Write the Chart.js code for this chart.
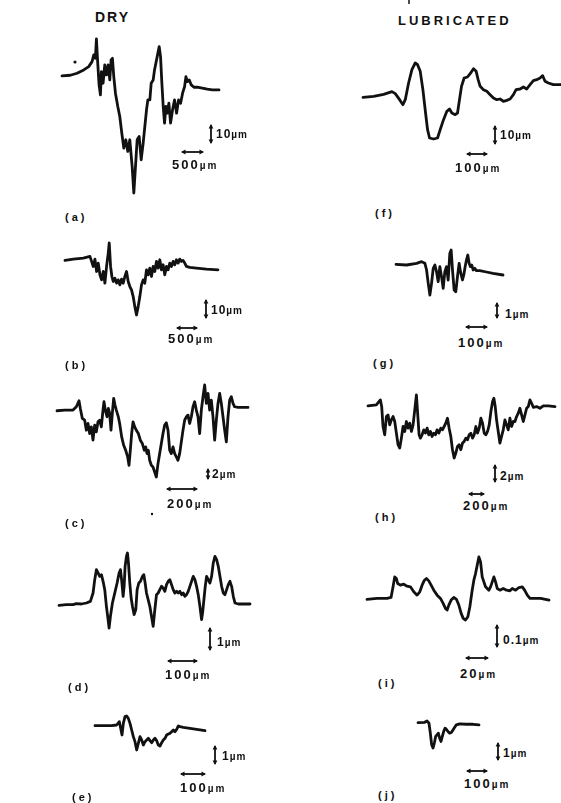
<!DOCTYPE html>
<html>
<head>
<meta charset="utf-8">
<script src="https://cdn.jsdelivr.net/npm/chart.js@4.4.0/dist/chart.umd.min.js"></script>
<style>
  html, body { margin: 0; padding: 0; background: #fff; }
  #sheet { position: relative; width: 561px; height: 803px; overflow: hidden;
    font-family: "Liberation Sans", Arial, sans-serif; font-weight: bold; color: #111; }
  #sheet canvas { position: absolute; }
  #marks { position: absolute; left: 0; top: 0; }
  .lbl { position: absolute; white-space: nowrap; line-height: 1; transform: translateY(-50%); }
  .head { font-size: 14px; letter-spacing: 2px; }
  .head.wide { font-size: 13px; letter-spacing: 3px; }
  .tag { font-size: 11px; letter-spacing: 3px; }
  .scale { font-size: 12px; letter-spacing: 1px; }
  .scale.wide { font-size: 13px; letter-spacing: 2px; }
  .scale span { font-size: 10px; }
</style>
</head>
<body>
<div id="sheet"><svg id="marks" width="561" height="803"></svg></div>
<script>
// Surface profiles across the wear tracks, [position, height] in trace units
// (3 units per screen px, height measured up from the trace's left baseline)
const traceA = [[0,0],[25,2],[45,8],[65,18],[80,28],[90,43],[95,63],[100,53],[103,111],[107,38],[111,-27],[115,-57],[118,13],[123,-22],[128,33],[133,3],[138,33],[143,-12],[147,48],[151,53],[155,-2],[160,-52],[167,-92],[173,-122],[179,-172],[185,-217],[191,-192],[197,-227],[203,-192],[210,-272],[215,-352],[220,-272],[225,-192],[231,-182],[237,-252],[243,-202],[248,-152],[253,-102],[257,-72],[263,-72],[267,-22],[273,-12],[277,18],[281,38],[285,58],[291,88],[295,58],[299,-22],[303,-92],[307,-142],[311,-92],[315,-112],[320,-82],[325,-142],[331,-102],[337,-72],[343,-112],[349,-72],[355,-82],[361,-52],[367,-32],[371,-2],[375,-17],[381,-12],[387,-27],[395,-34],[405,-34],[420,-37],[435,-40],[450,-42],[470,-42]];
const traceB = [[0,0],[25,4],[55,7],[75,12],[80,-3],[85,-18],[90,4],[95,-33],[100,-8],[105,-43],[110,-58],[115,-33],[120,-68],[125,-18],[130,22],[133,52],[137,-18],[141,-48],[145,-63],[150,-53],[155,-68],[160,-58],[165,-73],[170,-56],[175,-68],[180,-48],[185,-33],[190,-63],[195,-78],[200,-88],[205,-108],[210,-138],[215,-163],[220,-138],[225,-108],[230,-73],[235,-58],[240,-68],[245,-28],[250,-43],[255,-23],[260,-48],[265,-18],[270,-33],[275,-3],[280,-23],[285,2],[290,-28],[295,-13],[300,-43],[305,-18],[310,-28],[315,-8],[320,-18],[325,-3],[330,-13],[335,2],[340,-8],[345,4],[350,-3],[355,0],[360,-8],[365,-18],[375,-21],[395,-23],[425,-26],[460,-28]];
const traceC = [[0,0],[23,2],[48,2],[58,12],[66,30],[70,7],[76,-23],[83,-28],[88,-58],[93,-38],[98,-68],[103,-48],[108,-88],[113,-43],[118,-63],[123,-33],[128,-28],[133,-48],[138,2],[141,27],[145,2],[150,-18],[154,7],[158,-8],[162,-58],[166,-8],[170,37],[174,17],[178,2],[184,-18],[188,-38],[194,-78],[200,-103],[206,-118],[212,-138],[216,-163],[220,-118],[224,-68],[228,-33],[233,-48],[238,-58],[244,-68],[250,-88],[256,-98],[262,-118],[266,-108],[270,-128],[274,-118],[278,-148],[283,-163],[288,-168],[293,-183],[298,-198],[303,-158],[308,-128],[313,-98],[318,-68],[323,-43],[328,-36],[333,-58],[338,-118],[343,-128],[348,-108],[353,-128],[358,-138],[363,-148],[368,-128],[373,-93],[378,-58],[383,-28],[388,-18],[393,-13],[398,-38],[403,-18],[408,12],[413,27],[418,2],[423,-18],[428,-68],[433,2],[438,42],[443,77],[448,22],[453,52],[458,2],[463,32],[468,-18],[473,-88],[478,-28],[483,22],[488,52],[493,22],[498,-18],[503,-58],[508,-93],[513,-18],[518,32],[523,42],[528,22],[533,12],[543,10],[573,10]];
const traceD = [[0,0],[22,2],[42,2],[52,5],[67,4],[82,7],[94,12],[102,37],[107,77],[112,107],[117,97],[122,87],[127,92],[132,72],[137,47],[142,-3],[147,-43],[150,-68],[154,-33],[160,7],[167,37],[174,67],[180,97],[184,107],[188,72],[192,27],[195,57],[198,117],[202,147],[205,157],[208,127],[212,67],[216,22],[220,-3],[225,-28],[230,-13],[234,47],[239,67],[244,72],[250,87],[254,92],[258,67],[262,37],[267,17],[272,-3],[277,-33],[282,-63],[287,-13],[292,32],[297,37],[302,47],[307,57],[312,52],[317,42],[322,62],[327,72],[332,77],[337,62],[342,47],[347,37],[352,42],[357,37],[362,42],[367,32],[372,37],[377,27],[382,32],[387,42],[392,57],[397,72],[402,87],[407,77],[412,57],[417,32],[422,-3],[427,-43],[430,-23],[434,17],[438,57],[442,87],[447,77],[452,67],[457,87],[462,127],[467,147],[472,137],[477,117],[482,87],[487,57],[492,37],[497,32],[502,47],[507,62],[512,72],[517,57],[522,27],[527,7],[537,4],[552,4],[572,4]];
const traceE = [[0,0],[25,0],[50,0],[65,2],[73,12],[77,-8],[81,-28],[85,7],[90,27],[95,29],[100,22],[105,7],[110,-13],[115,-33],[120,-48],[125,-73],[130,-53],[135,-33],[140,-43],[145,-58],[150,-48],[155,-43],[160,-38],[165,-45],[170,-51],[175,-43],[180,-38],[185,-45],[190,-58],[195,-61],[200,-51],[205,-43],[210,-38],[215,-28],[220,-25],[225,-23],[230,-18],[235,-13],[240,-18],[245,-11],[250,-1],[255,-3],[265,-5],[285,-8],[305,-11],[330,-15]];
const traceF = [[0,0],[32,3],[62,9],[87,17],[97,11],[110,-7],[120,-22],[127,-7],[137,43],[147,83],[157,103],[164,98],[172,78],[180,23],[188,-47],[194,-97],[200,-122],[212,-125],[224,-122],[232,-97],[242,-67],[252,-42],[260,-35],[267,-47],[277,-52],[284,-47],[290,-7],[296,33],[304,58],[314,61],[322,71],[332,86],[340,78],[346,53],[352,33],[362,23],[372,18],[382,8],[392,-2],[402,-7],[412,-5],[422,-12],[432,-9],[442,-5],[452,8],[460,23],[472,25],[482,31],[492,25],[502,38],[512,50],[522,53],[532,58],[540,65],[547,48],[557,43],[572,38],[595,38]];
const traceG = [[0,0],[32,-2],[62,3],[77,8],[87,3],[92,-17],[97,-57],[102,-92],[107,-57],[112,-12],[117,-2],[122,-22],[127,-52],[132,-7],[137,-37],[142,-72],[147,-22],[152,-7],[157,-47],[162,33],[166,43],[170,-17],[175,-77],[180,-82],[185,-37],[190,3],[194,-22],[200,-47],[204,-32],[208,-7],[212,13],[216,28],[220,3],[224,-7],[228,-2],[232,-17],[237,-12],[242,-19],[252,-19],[272,-23],[292,-27],[322,-32]];
const traceH = [[0,0],[25,3],[37,18],[41,-2],[45,-62],[50,-87],[55,-32],[60,-27],[65,-57],[70,-42],[75,-32],[80,-47],[85,-82],[90,-117],[95,-127],[100,-97],[105,-62],[110,-77],[115,-47],[120,-67],[125,-52],[130,-77],[135,-57],[140,-12],[145,33],[149,-27],[153,-87],[157,-97],[162,-87],[167,-72],[172,-82],[177,-67],[182,-87],[187,-77],[192,-92],[197,-82],[202,-87],[207,-72],[212,-82],[218,-67],[223,-72],[228,-62],[233,-52],[238,-37],[243,-67],[248,-92],[253,-132],[258,-157],[263,-142],[268,-122],[273,-117],[278,-132],[283,-112],[288,-107],[293,-97],[298,-102],[303,-87],[308,-82],[313,-97],[318,-87],[323,-62],[328,-82],[333,-67],[338,-37],[343,-52],[348,-82],[353,-87],[358,-77],[363,-57],[368,-17],[373,13],[377,23],[381,-2],[385,-42],[390,-77],[395,-112],[400,-92],[405,-72],[410,-42],[415,-57],[420,-72],[425,-37],[430,-62],[435,-47],[440,-47],[445,-32],[450,-22],[455,-7],[460,-27],[465,-47],[470,-27],[475,-7],[480,-2],[485,18],[490,8],[495,-4],[505,-2],[515,-7],[525,0],[540,0],[560,-2]];
const traceI = [[0,0],[30,3],[60,3],[72,6],[78,38],[83,68],[88,63],[92,48],[100,43],[110,46],[120,40],[130,38],[140,23],[150,13],[158,23],[165,43],[172,58],[178,63],[185,56],[192,43],[200,28],[210,13],[220,3],[228,-12],[235,-27],[240,-32],[245,-17],[252,-2],[260,6],[268,0],[275,-17],[282,-42],[288,-57],[295,-62],[302,-52],[308,-22],[315,28],[320,58],[325,78],[330,103],[335,128],[340,113],[345,68],[350,53],[355,38],[360,33],[365,28],[370,38],[375,53],[380,68],[385,53],[390,33],[398,28],[408,33],[418,28],[428,26],[435,33],[445,28],[455,36],[465,38],[472,28],[480,13],[488,3],[500,3],[520,3],[545,-2]];
const traceJ = [[0,0],[20,1],[27,5],[33,-2],[37,-32],[41,-67],[45,-77],[49,-62],[53,-42],[57,-37],[61,-32],[65,-47],[69,-57],[73,-42],[77,-27],[81,-17],[85,-20],[90,-27],[95,-32],[100,-30],[105,-22],[110,-14],[115,-7],[125,-4],[145,-5],[165,-5],[183,-7]];

// Scale bar legends: [vertical bar, horizontal bar]
const scalesA = ['10', '500'];
const scalesB = ['10', '500'];
const scalesC = ['2', '200'];
const scalesD = ['1', '100'];
const scalesE = ['1', '100'];
const scalesF = ['10', '100'];
const scalesG = ['1', '100'];
const scalesH = ['2', '200'];
const scalesI = ['0.1', '20'];
const scalesJ = ['1', '100'];

const UNITS_PER_PX = 3;
const sheet = document.getElementById('sheet');
const marks = document.getElementById('marks');
const NS = 'http://www.w3.org/2000/svg';

// where each profile sits on the sheet, and its scale bars / caption
const panels = [
  { tag: '(a)', trace: traceA, scales: scalesA, left: 61.7, base: 76,
    vbar: [211, 125, 143], vtext: [216, 134], hbar: [182, 203, 152], htext: [172, 164], tagAt: [65, 217] },
  { tag: '(b)', trace: traceB, scales: scalesB, left: 65, base: 260.7,
    vbar: [206, 300, 318], vtext: [211, 310], hbar: [177, 197, 328], htext: [168, 338], tagAt: [65, 365] },
  { tag: '(c)', trace: traceC, scales: scalesC, left: 57.3, base: 410.7,
    vbar: [208, 469, 479], vtext: [212, 474], hbar: [167, 197, 489], htext: [167, 503], tagAt: [65, 523] },
  { tag: '(d)', trace: traceD, scales: scalesD, left: 59.3, base: 605.7,
    vbar: [210, 628, 650], vtext: [217, 642], hbar: [168, 197, 661], htext: [165, 674], tagAt: [68, 687] },
  { tag: '(e)', trace: traceE, scales: scalesE, left: 95, base: 725.7,
    vbar: [215, 746, 764], vtext: [222, 756], hbar: [181, 205, 774], htext: [180, 787], tagAt: [72, 797] },
  { tag: '(f)', trace: traceF, scales: scalesF, left: 362.7, base: 97.7,
    vbar: [495, 126, 144], vtext: [500, 135], hbar: [467, 487, 154], htext: [455, 167], tagAt: [375, 213] },
  { tag: '(g)', trace: traceG, scales: scalesG, left: 396, base: 264.3,
    vbar: [497, 303, 318], vtext: [505, 314], hbar: [466, 487, 327], htext: [458, 342], tagAt: [373, 363] },
  { tag: '(h)', trace: traceH, scales: scalesH, left: 368.3, base: 406,
    vbar: [495, 465, 482], vtext: [500, 476], hbar: [469, 484, 494], htext: [463, 505], tagAt: [375, 517] },
  { tag: '(i)', trace: traceI, scales: scalesI, left: 366.7, base: 599.3,
    vbar: [497, 625, 647], vtext: [503, 640], hbar: [466, 488, 658], htext: [460, 673], tagAt: [378, 683] },
  { tag: '(j)', trace: traceJ, scales: scalesJ, left: 418.3, base: 722.7,
    vbar: [498, 743, 760], vtext: [503, 753], hbar: [467, 487, 771], htext: [464, 783], tagAt: [378, 795] },
];

function addText(x, y, html, cls) {
  const el = document.createElement('div');
  el.className = 'lbl ' + cls;
  el.style.left = x + 'px';
  el.style.top = y + 'px';
  el.innerHTML = html;
  sheet.appendChild(el);
}

function svgEl(name, attrs) {
  const el = document.createElementNS(NS, name);
  for (const k in attrs) el.setAttribute(k, attrs[k]);
  marks.appendChild(el);
  return el;
}

// double-headed arrow, vertical or horizontal
function arrow(x1, y1, x2, y2) {
  const h = 3.5, w = 2.4;
  svgEl('line', { x1, y1, x2, y2, stroke: '#111', 'stroke-width': 1.8 });
  if (x1 === x2) {
    svgEl('polygon', { points: `${x1 - w},${y1 + h} ${x1 + w},${y1 + h} ${x1},${y1 - 1}`, fill: '#111' });
    svgEl('polygon', { points: `${x2 - w},${y2 - h} ${x2 + w},${y2 - h} ${x2},${y2 + 1}`, fill: '#111' });
  } else {
    svgEl('polygon', { points: `${x1 + h},${y1 - w} ${x1 + h},${y1 + w} ${x1 - 1},${y1}`, fill: '#111' });
    svgEl('polygon', { points: `${x2 - h},${y2 - w} ${x2 - h},${y2 + w} ${x2 + 1},${y2}`, fill: '#111' });
  }
}

function drawTrace(p) {
  const xs = p.trace.map(d => d[0]);
  const ys = p.trace.map(d => d[1]);
  const xMin = -6, xMax = Math.max(...xs) + 6;
  const yMin = Math.min(...ys) - 9, yMax = Math.max(...ys) + 9;
  const canvas = document.createElement('canvas');
  canvas.width = Math.round((xMax - xMin) / UNITS_PER_PX);
  canvas.height = Math.round((yMax - yMin) / UNITS_PER_PX);
  canvas.style.left = (p.left + xMin / UNITS_PER_PX) + 'px';
  canvas.style.top = (p.base - yMax / UNITS_PER_PX) + 'px';
  sheet.appendChild(canvas);

  new Chart(canvas, {
    type: 'line',
    data: {
      datasets: [{
        data: p.trace.map(d => ({ x: d[0], y: d[1] })),
        borderColor: '#111',
        borderWidth: 2.8,
        borderJoinStyle: 'round',
        borderCapStyle: 'round',
        pointRadius: 0,
        tension: 0,
        fill: false,
      }],
    },
    options: {
      responsive: false,
      animation: false,
      events: [],
      layout: { padding: 0 },
      plugins: { legend: { display: false }, tooltip: { enabled: false } },
      scales: {
        x: { type: 'linear', display: false, min: xMin, max: xMax },
        y: { type: 'linear', display: false, min: yMin, max: yMax },
      },
    },
  });
}

addText(95, 17, 'DRY', 'head');
addText(398, 20, 'LUBRICATED', 'head wide');

panels.forEach(p => {
  drawTrace(p);
  arrow(p.vbar[0], p.vbar[1], p.vbar[0], p.vbar[2]);
  arrow(p.hbar[0], p.hbar[2], p.hbar[1], p.hbar[2]);
  addText(p.vtext[0], p.vtext[1], p.scales[0] + '<span>µm</span>', 'scale');
  addText(p.htext[0], p.htext[1], p.scales[1] + '<span>µm</span>', 'scale wide');
  addText(p.tagAt[0], p.tagAt[1], p.tag, 'tag');
});

// stray specks on the sheet
svgEl('circle', { cx: 75, cy: 62, r: 1.6, fill: '#111' });
svgEl('circle', { cx: 152, cy: 514, r: 1.2, fill: '#111' });
svgEl('line', { x1: 409, y1: 0, x2: 409, y2: 4, stroke: '#111', 'stroke-width': 1.5 });
</script>
</body>
</html>
